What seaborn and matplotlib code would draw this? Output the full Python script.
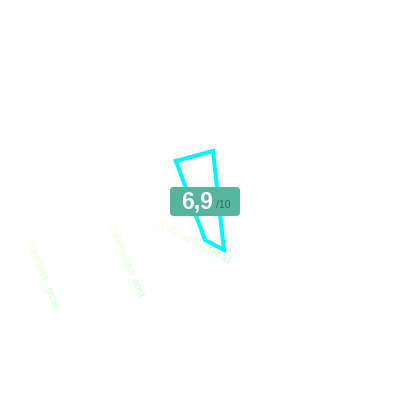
import matplotlib
matplotlib.use("Agg")
import numpy as np
import pandas as pd
import seaborn as sns
import matplotlib.pyplot as plt
from matplotlib.patches import FancyBboxPatch
from matplotlib.textpath import TextPath
from matplotlib.font_manager import FontProperties

# Chart values (in pixel-like units of the square plot)
poly_x = [176, 213, 224, 205, 176]
poly_y = [161, 151, 250, 240, 161]
label_names = ["Bovenplein_groen", "Rubenslaan_oost", "Aubroeckstraat"]
label_start_x = [29, 110, 158]
label_start_y = [240, 224, 223]
label_end_x = [56, 141, 230]
label_end_y = [309, 297, 261]
score_text = "6,9"
score_max = "/10"

sns.set_theme(style="white")
plt.rcParams["font.family"] = ["Liberation Sans", "DejaVu Sans"]

fig = plt.figure(figsize=(4, 4), dpi=100, facecolor="white")
ax = fig.add_axes([0, 0, 1, 1])

df = pd.DataFrame({"x": poly_x, "y": poly_y})
sns.lineplot(data=df, x="x", y="y", sort=False, estimator=None,
             color="#00f6ff", lw=2.9, ax=ax, solid_joinstyle="miter", solid_capstyle="projecting", zorder=2)
ax.set_xlim(0, 400)
ax.set_ylim(400, 0)
ax.axis("off")

fp = FontProperties(family="Liberation Sans", size=7)
c0 = np.array(matplotlib.colors.to_rgb("#f8ffd6"))
c1 = np.array(matplotlib.colors.to_rgb("#ccffd2"))
for name, xs, ys, xe, ye in zip(label_names, label_start_x, label_start_y, label_end_x, label_end_y):
    widths = np.array([TextPath((0, 0), ch if ch != " " else "n", prop=fp).get_extents().x1 + 0.6 for ch in name])
    mids = (np.cumsum(widths) - widths / 2) / widths.sum()
    angle = np.degrees(np.arctan2(ye - ys, xe - xs))
    for ch, t in zip(name, mids):
        col = c0 + (c1 - c0) * t
        ax.text(xs + (xe - xs) * t, ys + (ye - ys) * t, ch, color=col, fontproperties=fp,
                rotation=-angle, rotation_mode="anchor", ha="center", va="center", zorder=1)

ax.add_patch(FancyBboxPatch((173, 190), 64, 23, boxstyle="round,pad=3,rounding_size=4",
                            fc="#55b69d", ec="none", zorder=3))
ax.text(197, 202.5, score_text, color="white", fontsize=16.5, fontweight="bold",
        ha="center", va="center", zorder=4)
ax.text(223, 204.5, score_max, color="#2f6b5c", fontsize=7.5, ha="center", va="center", zorder=4)

fig.savefig("out.png", dpi=100, facecolor="white")
